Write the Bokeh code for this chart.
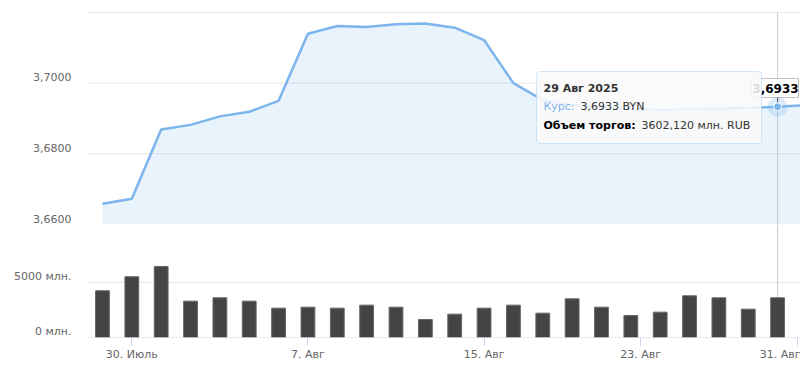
from datetime import date
from bokeh.plotting import figure
from bokeh.layouts import column
from bokeh.models import Range1d, FixedTicker, Label, BoxAnnotation
from bokeh.core.properties import value
from bokeh.embed import file_html
from bokeh.resources import INLINE

# ---------------- data ----------------
dates = ["2025-07-29", "2025-07-30", "2025-07-31", "2025-08-01", "2025-08-04",
         "2025-08-05", "2025-08-06", "2025-08-07", "2025-08-08", "2025-08-11",
         "2025-08-12", "2025-08-13", "2025-08-14", "2025-08-15", "2025-08-18",
         "2025-08-19", "2025-08-20", "2025-08-21", "2025-08-22", "2025-08-25",
         "2025-08-26", "2025-08-27", "2025-08-28", "2025-08-29", "2025-09-01"]
rate = [3.6659, 3.6673, 3.6869, 3.6882, 3.6906,
        3.6919, 3.6950, 3.7140, 3.7162, 3.7159,
        3.7167, 3.7169, 3.7157, 3.7122, 3.7000,
        3.6952, 3.6938, 3.6932, 3.6928, 3.6924,
        3.6926, 3.6928, 3.6930, 3.6933, 3.6938]
volume = [4237, 5508, 6446, 3299, 3601,
          3299, 2663, 2753, 2663, 2936,
          2753, 1634, 2118, 2663, 2936,
          2209, 3510, 2753, 1998, 2300,
          3783, 3601, 2572, 3602.12, float("nan")]
tick_dates = ["2025-07-30", "2025-08-07", "2025-08-15", "2025-08-23", "2025-08-31"]
tick_labels = ["30. Июль", "7. Авг", "15. Авг", "23. Авг", "31. Авг"]
rate_ticks = [3.66, 3.68, 3.70, 3.72]
rate_tick_labels = ["3,6600", "3,6800", "3,7000", ""]
vol_ticks = [0, 5000]
vol_tick_labels = ["0 млн.", "5000 млн."]
month_names = ["Янв", "Фев", "Мар", "Апр", "Май", "Июн",
               "Июл", "Авг", "Сен", "Окт", "Ноя", "Дек"]
hover_date = "2025-08-29"

# ---------------- helpers ----------------
dd = [date.fromisoformat(d) for d in dates]
idx = list(range(len(dates)))


def ordinal_pos(ds):
    d = date.fromisoformat(ds)
    for i in range(len(dd) - 1):
        if dd[i] <= d <= dd[i + 1]:
            return round(i + (d - dd[i]).days / (dd[i + 1] - dd[i]).days, 4)
    return float(len(dd) - 1)


tick_pos = [ordinal_pos(t) for t in tick_dates]

FONT = "DejaVu Sans"
LBL = "#666666"
GRID = "#e6e6e6"

# plot-area geometry (pixels)
LEFT = 87
X0, X1 = -0.51, 23.78           # index range spanned by the plot area
PXU = 713 / (X1 - X0)            # pixels per index unit
XS = X0 - LEFT / PXU             # index at canvas left edge

TOP_H = 224
TOP_PAD = 12
Y0, Y1 = 3.66, 3.72
PYU = (TOP_H - TOP_PAD) / (Y1 - Y0)
YTOP = Y1 + TOP_PAD / PYU


def xd(px):
    return XS + px / PXU


def yd(py):
    return YTOP - py / PYU


xr = Range1d(XS, X1)

# ---------------- top (rate) ----------------
top = figure(width=800, height=TOP_H, x_range=xr, y_range=Range1d(Y0, YTOP),
             output_backend="svg", toolbar_location=None,
             x_axis_location=None, y_axis_location=None,
             min_border_left=0, min_border_right=0,
             min_border_top=0, min_border_bottom=0,
             outline_line_color=None, background_fill_color="white",
             border_fill_color="white")
top.xgrid.grid_line_color = None
top.ygrid.grid_line_color = None

# grid lines of the plot area
top.segment(x0=[X0] * len(rate_ticks), y0=rate_ticks, x1=[X1] * len(rate_ticks),
            y1=rate_ticks, line_color=GRID, line_width=1)

h = dates.index(hover_date)
# crosshair
top.segment(x0=[h], y0=[Y1], x1=[h], y1=[Y0], line_color="#cccccc", line_width=1)

top.varea(x=idx, y1=Y0, y2=rate, fill_color="#7cb5ec", fill_alpha=0.17)
top.line(idx, rate, line_color="#7cb5ec", line_width=2.5)

# callout connector + hover marker
top.segment(x0=[h], y0=[yd(97)], x1=[h], y1=[rate[h]], line_color="#333333", line_width=1)
top.scatter([h], [rate[h]], size=20, fill_color="#7cb5ec", fill_alpha=0.25, line_color=None)
top.scatter([h], [rate[h]], size=8, fill_color="#7cb5ec", line_color="white", line_width=1)

# y tick labels
ylab_v = [v for v, t in zip(rate_ticks, rate_tick_labels) if t]
ylab_t = [t for t in rate_tick_labels if t]
top.text(x=[X0] * len(ylab_v), y=ylab_v, text=ylab_t, x_offset=-16, y_offset=-6,
         text_align="right", text_baseline="middle",
         text_font=value(FONT), text_font_size="11px", text_color=LBL)

# callout box with value
top.add_layout(BoxAnnotation(left=xd(751), right=xd(798), top=yd(78), bottom=yd(97),
                             fill_color="white", fill_alpha=0.95,
                             line_color="#333333", line_width=1))
rate_txt = f"{rate[h]:.4f}".replace(".", ",")
top.add_layout(Label(x=xd(775), y=yd(88), text=rate_txt, text_align="center",
                     text_baseline="middle", text_font=FONT, text_font_size="12px",
                     text_font_style="bold", text_color="#000000"))

# tooltip
top.add_layout(BoxAnnotation(left=xd(536), right=xd(761), top=yd(71), bottom=yd(143),
                             fill_color="#f9f9f9", fill_alpha=0.88,
                             line_color="#7cb5ec", line_width=1, border_radius=3))
hd = dd[h]
date_txt = f"{hd.day} {month_names[hd.month - 1]} {hd.year}"
vol_txt = f"{volume[h]:.3f}".replace(".", ",") + " млн. RUB"
common = dict(text_baseline="middle", text_align="left", text_font=FONT,
              text_font_size="11px")
top.add_layout(Label(x=xd(543), y=yd(88), text=date_txt, text_font_style="bold",
                     text_color="#333333", **common))
top.add_layout(Label(x=xd(543), y=yd(106), text="Курс:", text_color="#7cb5ec", **common))
top.add_layout(Label(x=xd(580), y=yd(106), text=rate_txt + " BYN", text_color="#333333", **common))
top.add_layout(Label(x=xd(543), y=yd(125), text="Объем торгов:", text_font_style="bold",
                     text_color="#000000", **common))
top.add_layout(Label(x=xd(641), y=yd(125), text=vol_txt, text_color="#333333", **common))

# ---------------- bottom (volume) ----------------
BOT_H = 381 - TOP_H
BOT_BORDER = 44
frame_h = BOT_H - BOT_BORDER
VMAX = frame_h / 55.1 * 5000
bot = figure(width=800, height=BOT_H, x_range=xr, y_range=Range1d(0, VMAX),
             output_backend="svg", toolbar_location=None,
             y_axis_location=None, x_axis_location="below",
             min_border_left=0, min_border_right=0,
             min_border_top=0, min_border_bottom=BOT_BORDER,
             outline_line_color=None, background_fill_color="white",
             border_fill_color="white")
bot.xgrid.grid_line_color = None
bot.ygrid.grid_line_color = None

bot.segment(x0=[X0], y0=[5000], x1=[X1], y1=[5000], line_color=GRID, line_width=1)
bot.segment(x0=[h], y0=[VMAX], x1=[h], y1=[0], line_color="#cccccc", line_width=1)
bot.vbar(x=idx, top=volume, bottom=0, width=0.47, fill_color="#444444",
         line_color="#666666", line_width=1)
# axis line of the plot area
bot.segment(x0=[X0], y0=[0], x1=[X1], y1=[0], line_color="#ccd6eb", line_width=1)

ax = bot.xaxis[0]
ax.ticker = FixedTicker(ticks=tick_pos)
ax.major_label_overrides = {p: l for p, l in zip(tick_pos, tick_labels)}
ax.axis_line_color = None
ax.major_tick_line_color = "#ccd6eb"
ax.major_tick_out = 8
ax.major_tick_in = 0
ax.minor_tick_line_color = None
ax.major_label_standoff = 2
ax.major_label_text_color = LBL
ax.major_label_text_font = FONT
ax.major_label_text_font_size = "11px"

bot.text(x=[X0] * len(vol_ticks), y=vol_ticks, text=vol_tick_labels, x_offset=-16,
         y_offset=-6, text_align="right", text_baseline="middle",
         text_font=value(FONT), text_font_size="11px", text_color=LBL)

p = column(top, bot)
open("out.html", "w").write(file_html(p, INLINE))
